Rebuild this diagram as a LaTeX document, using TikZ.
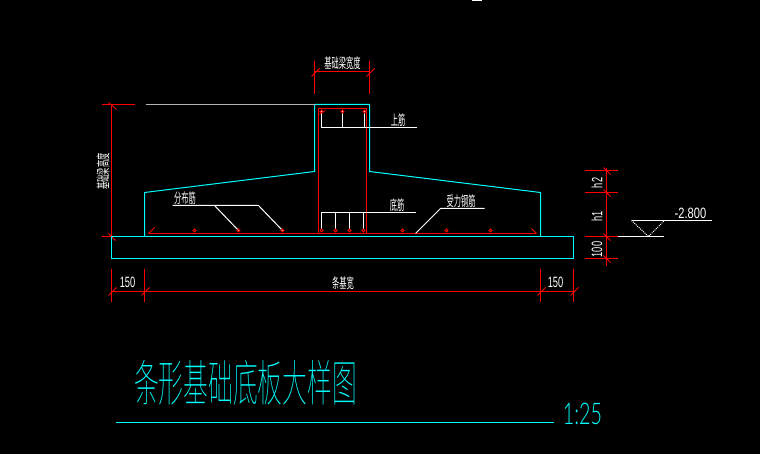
\documentclass[tikz,border=0pt]{standalone}
\usepackage{fontspec}
\setmainfont{Liberation Sans}
\newfontfamily\cjk{Noto Sans CJK SC}
\newfontfamily\cjkthin{Noto Sans CJK SC Thin}
\newfontfamily\numthin{Lato Light}
\definecolor{cadcyan}{RGB}{0,255,255}
\definecolor{cadred}{RGB}{255,0,0}
\tikzset{ concrete/.style = {draw=cadcyan, line width=1bp} }
\tikzset{ rebar/.style = {draw=cadred, line width=1bp} }
\tikzset{ dimline/.style = {draw=cadred, line width=1bp} }
\tikzset{ leader/.style = {draw=white, line width=1bp} }
\tikzset{ dimtick/.style = {draw=cadred, line width=0.8bp} }
\tikzset{ cjklabel/.style = {text=white, inner sep=0pt, font=\cjk\fontsize{14}{14}\selectfont, xscale=0.52} }
\tikzset{ numlabel/.style = {text=white, inner sep=0pt, font=\fontsize{15}{15}\selectfont, xscale=0.62} }
\tikzset{ barmark/.style = {circle, draw=cadred, line width=0.8bp, inner sep=0pt, minimum size=3bp} }
\begin{document}
\begin{tikzpicture}[x=1bp,y=-1bp]
    \fill[black] (-0.5,-0.5) rectangle (759.5,453.5);
    \useasboundingbox (-0.5,-0.5) rectangle (759.5,453.5);
    \draw[white, line width=1bp] (471,0) -- (481,0);
    % outline
    \draw[concrete] (144,236) -- (144,192) -- (314,171) -- (314,104) -- (369,104) -- (369,171) -- (540,192) -- (540,236);
    % rebar
    \draw[rebar] (318,233) -- (318,108) -- (366,108) -- (366,233);
    \draw[rebar] (148,233) -- (535,233);
    \draw[dimtick] (148,233) -- (154,227);
    \draw[dimtick] (531,228) -- (536,233);
    \draw[dimtick] (319,114) -- (325,110);
    % leaders
    \draw[leader] (321,111) -- (321,127) -- (416,127);
    \draw[leader] (342,111) -- (342,127);
    \draw[leader] (364,111) -- (364,127);
    \draw[leader] (321,230) -- (321,212) -- (415,212);
    \draw[leader] (335,230) -- (335,212);
    \draw[leader] (349,230) -- (349,212);
    \draw[leader] (363,230) -- (363,212);
    \draw[leader] (172,205) -- (258,205) -- (282,230);
    \draw[leader] (214,205) -- (238,230);
    \draw[leader] (415,233) -- (440,208) -- (484,208);
    \draw[draw=white!70!black, line width=1bp] (145,104) -- (314,104);
    % bars
    \foreach \x in {321,342,364} \node[barmark] (top\x) at (\x,111) {};
    \foreach \x in {194,238,282,321,335,349,363,402,446,490} \node[barmark] (bot\x) at (\x,230) {};
    % dimensions
    \draw[dimline] (314,61) -- (314,94);
    \draw[dimline] (369,61) -- (369,94);
    \draw[dimline] (314,71) -- (369,71);
    \draw[dimtick] (311,76) -- (319,68);
    \draw[dimtick] (366,76) -- (374,68);
    \draw[dimline] (111,104) -- (111,236);
    \draw[dimline] (101,104) -- (134,104);
    \draw[dimline] (101,236) -- (111,236);
    \draw[dimtick] (108,102) -- (116,109);
    \draw[dimtick] (108,233) -- (115,240);
    \draw[dimline] (606,168) -- (606,266);
    \foreach \y in {170,192,236,258} {
        \draw[dimline] (584,\y) -- (617,\y);
        \draw[dimtick] (603,\y-3) -- (610,\y+4);
    }
    \draw[dimline] (111,291) -- (573,291);
    \foreach \x in {111,144,540,573} {
        \draw[dimline] (\x,269) -- (\x,302);
        \draw[dimtick] (\x-3,295) -- (\x+5,287);
    }
    \draw[concrete] (111,236) rectangle (573,258);
    % level mark
    \draw[leader] (617,236) -- (663,236);
    \draw[leader, densely dotted] (631,220) -- (648,236) -- (664,220);
    \draw[leader] (631,220) -- (711,220);
    % labels
    \node[cjklabel] (beamwidth) at (342,62.5) {基础梁宽度};
    \node[rotate=90, cjklabel] (beamheight) at (102.5,171) {基础梁高度};
    \node[cjklabel] (topbar) at (397.5,120) {上筋};
    \node[cjklabel] (botbar) at (396.5,205) {底筋};
    \node[cjklabel] (distbar) at (184.5,198) {分布筋};
    \node[cjklabel] (mainbar) at (460.5,201) {受力钢筋};
    \node[cjklabel] (stripwidth) at (342.5,283) {条基宽};
    \node[numlabel] (leftover) at (127,282) {150};
    \node[numlabel] (rightover) at (555,282) {150};
    \node[rotate=90, numlabel] (htwo) at (596.5,182.5) {h2};
    \node[rotate=90, numlabel] (hone) at (596.5,216) {h1};
    \node[rotate=90, numlabel] (hbase) at (596.5,249) {100};
    \node[numlabel, xscale=1.2] (level) at (690,212.5) {-2.800};
    % title
    \node[text=cadcyan, inner sep=0pt, xscale=0.54, yscale=1.08, font=\cjkthin\fontsize{46}{46}\selectfont] (title) at (245,382) {条形基础底板大样图};
    \draw[concrete] (115,422) -- (553,422);
    \node[text=cadcyan, inner sep=0pt, xscale=0.66, font=\numthin\fontsize{30}{30}\selectfont] (ratio) at (582,413) {1:25};
\end{tikzpicture}
\end{document}
